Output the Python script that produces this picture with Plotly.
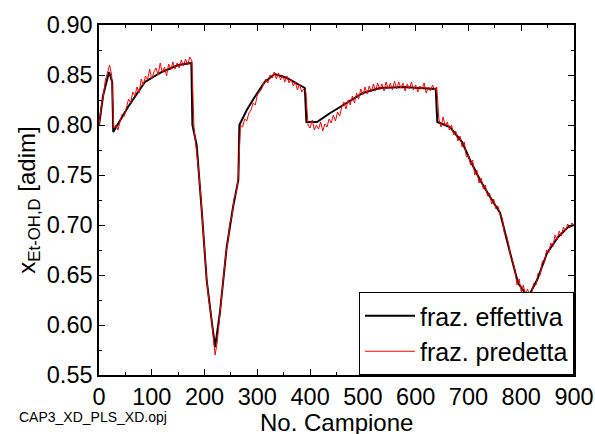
import plotly.graph_objects as go

# Actual (effettiva) series: sample index and value
eff_x = [0, 8, 19, 25, 27, 40, 55, 87, 119, 150, 175, 177, 185, 195, 204, 214, 220,
         229, 242, 254, 264, 266, 280, 295, 314, 333, 356, 390, 393, 413, 438, 463,
         500, 532, 576, 638, 641, 665, 688, 703, 722, 741, 760, 779, 794, 813, 830,
         849, 870, 889, 900]
eff_y = [0.800, 0.830, 0.853, 0.843, 0.793, 0.805, 0.818, 0.843, 0.853, 0.860, 0.862,
         0.800, 0.780, 0.712, 0.645, 0.602, 0.578, 0.612, 0.678, 0.718, 0.745, 0.800,
         0.815, 0.828, 0.843, 0.851, 0.847, 0.837, 0.803, 0.803, 0.812, 0.820, 0.832,
         0.837, 0.838, 0.836, 0.803, 0.798, 0.783, 0.765, 0.745, 0.728, 0.712, 0.672,
         0.642, 0.628, 0.645, 0.672, 0.688, 0.698, 0.700]

# Predicted (predetta) series: every 4th sample
pred_x = list(range(0, 901, 4))
pred_y = [
    0.800, 0.818, 0.828, 0.845, 0.852, 0.860, 0.850, 0.797, 0.800, 0.795,
    0.804, 0.811, 0.809, 0.818, 0.826, 0.822, 0.833, 0.829, 0.838, 0.832,
    0.846, 0.840, 0.849, 0.845, 0.856, 0.846, 0.853, 0.857, 0.850, 0.862,
    0.852, 0.858, 0.849, 0.861, 0.855, 0.863, 0.856, 0.862, 0.857, 0.865,
    0.859, 0.866, 0.860, 0.868, 0.864, 0.797, 0.780, 0.758, 0.735, 0.703,
    0.677, 0.646, 0.625, 0.612, 0.591, 0.570, 0.583, 0.606, 0.629, 0.645,
    0.670, 0.683, 0.702, 0.709, 0.727, 0.732, 0.748, 0.800, 0.798, 0.806,
    0.804, 0.812, 0.815, 0.822, 0.820, 0.830, 0.833, 0.836, 0.842, 0.846,
    0.842, 0.850, 0.847, 0.853, 0.846, 0.852, 0.845, 0.850, 0.843, 0.849,
    0.842, 0.846, 0.839, 0.843, 0.835, 0.841, 0.833, 0.836, 0.833, 0.800,
    0.797, 0.805, 0.795, 0.800, 0.796, 0.803, 0.794, 0.801, 0.798, 0.806,
    0.802, 0.810, 0.804, 0.813, 0.809, 0.818, 0.823, 0.816, 0.825, 0.820,
    0.829, 0.822, 0.832, 0.826, 0.836, 0.830, 0.838, 0.831, 0.839, 0.833,
    0.841, 0.834, 0.842, 0.835, 0.841, 0.834, 0.843, 0.836, 0.842, 0.835,
    0.844, 0.836, 0.843, 0.837, 0.842, 0.834, 0.841, 0.836, 0.843, 0.835,
    0.840, 0.833, 0.839, 0.836, 0.842, 0.832, 0.838, 0.834, 0.840, 0.835,
    0.838, 0.806, 0.798, 0.808, 0.799, 0.803, 0.795, 0.800, 0.790, 0.794,
    0.784, 0.789, 0.778, 0.783, 0.768, 0.770, 0.760, 0.765, 0.750, 0.755,
    0.742, 0.747, 0.736, 0.740, 0.729, 0.732, 0.721, 0.726, 0.716, 0.719,
    0.710, 0.707, 0.692, 0.690, 0.681, 0.668, 0.664, 0.655, 0.640, 0.646,
    0.633, 0.640, 0.630, 0.636, 0.629, 0.633, 0.642, 0.640, 0.652, 0.650,
    0.664, 0.662, 0.675, 0.672, 0.682, 0.678, 0.690, 0.685, 0.694, 0.689,
    0.698, 0.694, 0.701, 0.697, 0.702, 0.700,
]

x_ticks = [0, 100, 200, 300, 400, 500, 600, 700, 800, 900]
y_ticks = [0.55, 0.60, 0.65, 0.70, 0.75, 0.80, 0.85, 0.90]

FONT = "Liberation Sans, Arial, sans-serif"

fig = go.Figure()
fig.add_trace(go.Scatter(x=eff_x, y=eff_y, mode="lines", name="fraz. effettiva",
                         line=dict(color="black", width=2)))
fig.add_trace(go.Scatter(x=pred_x, y=pred_y, mode="lines", name="fraz. predetta",
                         line=dict(color="#ff0000", width=1)))

axis_common = dict(showline=True, linecolor="black", linewidth=1.5, mirror="ticks",
                   ticks="inside", ticklen=6, tickwidth=1, tickcolor="black",
                   showgrid=False, zeroline=False, automargin=False,
                   tickfont=dict(family=FONT, size=23.5, color="black"))

fig.update_xaxes(range=[0, 900], tickvals=x_ticks,
                 minor=dict(ticks="inside", ticklen=3, dtick=50, tick0=0, tickcolor="black"),
                 **axis_common)
fig.update_yaxes(range=[0.55, 0.90], tickvals=y_ticks, tickformat=".2f",
                 minor=dict(ticks="inside", ticklen=3, dtick=0.025, tick0=0.55, tickcolor="black"),
                 title=dict(text="x<sub>Et-OH,D</sub> [adim]",
                            font=dict(family=FONT, size=24, color="black"), standoff=4),
                 **axis_common)

fig.update_layout(
    width=595, height=434,
    margin=dict(l=99, r=21, t=25, b=59),
    paper_bgcolor="white", plot_bgcolor="white",
    font=dict(family=FONT, color="black"),
    legend=dict(x=1, y=0, xanchor="right", yanchor="bottom",
                bgcolor="white", bordercolor="black", borderwidth=1,
                font=dict(family=FONT, size=25, color="black"),
                itemwidth=50, tracegroupgap=0),
    annotations=[
        dict(text="No. Campione", xref="paper", yref="paper",
             x=0.5, y=-0.092, xanchor="center", yanchor="top",
             showarrow=False, font=dict(family=FONT, size=24, color="black")),
        dict(text="CAP3_XD_PLS_XD.opj", xref="paper", yref="paper",
             x=-0.172, y=-0.12, xanchor="left", yanchor="middle",
             showarrow=False, font=dict(family=FONT, size=14, color="black")),
    ],
)

fig.write_html("out.html")
